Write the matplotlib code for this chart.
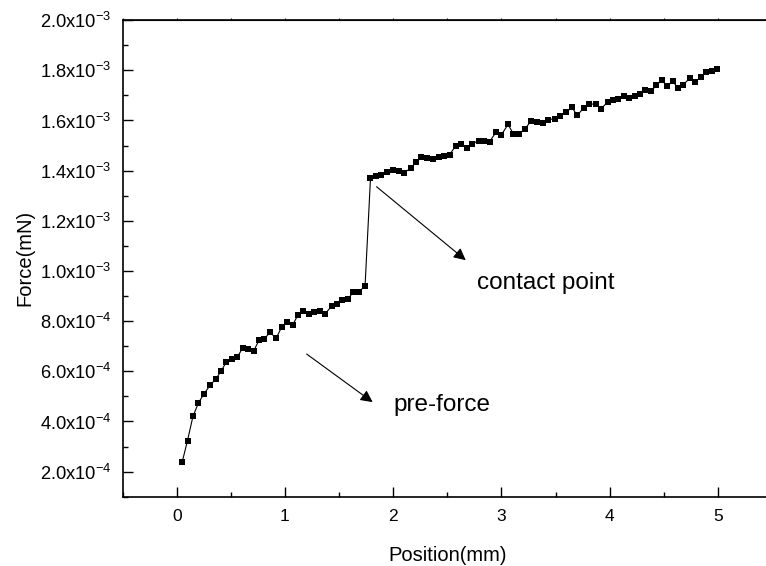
import matplotlib
matplotlib.use('Agg')
import matplotlib.pyplot as plt
from matplotlib.ticker import MultipleLocator, FixedLocator, FixedFormatter

plt.rcParams['font.family'] = ['Liberation Sans', 'DejaVu Sans']
plt.rcParams['mathtext.fontset'] = 'custom'
plt.rcParams['mathtext.rm'] = 'Liberation Sans'
plt.rcParams['mathtext.default'] = 'regular'

# position (mm) and force (mN)
position = [0.05, 0.10, 0.15, 0.20, 0.25, 0.31, 0.36, 0.41, 0.46, 0.51,
            0.56, 0.61, 0.66, 0.71, 0.76, 0.81, 0.86, 0.92, 0.97, 1.02,
            1.07, 1.12, 1.17, 1.22, 1.27, 1.32, 1.37, 1.43, 1.48, 1.53,
            1.58, 1.63, 1.68, 1.74,
            1.79, 1.84, 1.89, 1.94, 2.00, 2.05, 2.10, 2.16, 2.21, 2.26,
            2.31, 2.37, 2.42, 2.47, 2.52, 2.58, 2.63, 2.68, 2.73, 2.79, 2.84,
            2.89, 2.95, 3.00, 3.06, 3.11, 3.16, 3.22, 3.27, 3.33, 3.38,
            3.43, 3.49, 3.54, 3.60, 3.65, 3.70, 3.76, 3.81, 3.87, 3.92, 3.98,
            4.03, 4.08, 4.13, 4.18, 4.23, 4.28, 4.33, 4.38, 4.43, 4.48,
            4.53, 4.58, 4.63, 4.68, 4.74, 4.79, 4.84, 4.89, 4.94, 4.99]

force = [2.37e-4, 3.24e-4, 4.20e-4, 4.73e-4, 5.09e-4, 5.45e-4, 5.69e-4, 6.00e-4, 6.39e-4, 6.51e-4,
         6.57e-4, 6.93e-4, 6.88e-4, 6.81e-4, 7.23e-4, 7.29e-4, 7.55e-4, 7.33e-4, 7.77e-4, 7.96e-4,
         7.83e-4, 8.25e-4, 8.40e-4, 8.27e-4, 8.36e-4, 8.40e-4, 8.29e-4, 8.59e-4, 8.67e-4, 8.84e-4,
         8.87e-4, 9.15e-4, 9.15e-4, 9.41e-4,
         1.369e-3, 1.380e-3, 1.384e-3, 1.393e-3, 1.403e-3, 1.397e-3, 1.392e-3, 1.409e-3, 1.433e-3, 1.453e-3,
         1.451e-3, 1.445e-3, 1.453e-3, 1.457e-3, 1.464e-3, 1.500e-3, 1.507e-3, 1.491e-3, 1.507e-3, 1.520e-3, 1.520e-3,
         1.516e-3, 1.553e-3, 1.543e-3, 1.584e-3, 1.547e-3, 1.547e-3, 1.567e-3, 1.597e-3, 1.593e-3, 1.589e-3,
         1.603e-3, 1.607e-3, 1.617e-3, 1.633e-3, 1.653e-3, 1.620e-3, 1.651e-3, 1.667e-3, 1.664e-3, 1.647e-3, 1.673e-3,
         1.683e-3, 1.687e-3, 1.697e-3, 1.689e-3, 1.697e-3, 1.707e-3, 1.723e-3, 1.716e-3, 1.740e-3, 1.760e-3,
         1.737e-3, 1.756e-3, 1.731e-3, 1.743e-3, 1.769e-3, 1.753e-3, 1.773e-3, 1.793e-3, 1.796e-3, 1.807e-3]

x_ticks = [0, 1, 2, 3, 4, 5]
y_ticks = [2e-4, 4e-4, 6e-4, 8e-4, 1.0e-3, 1.2e-3, 1.4e-3, 1.6e-3, 1.8e-3, 2.0e-3]
y_labels = ['2.0x10$^{-4}$', '4.0x10$^{-4}$', '6.0x10$^{-4}$', '8.0x10$^{-4}$',
            '1.0x10$^{-3}$', '1.2x10$^{-3}$', '1.4x10$^{-3}$', '1.6x10$^{-3}$',
            '1.8x10$^{-3}$', '2.0x10$^{-3}$']

fig = plt.figure(figsize=(7.66, 5.66), dpi=100)
# right edge of the frame is cut off in the original
ax = fig.add_axes([0.160, 0.1224, 0.848, 0.842])

ax.plot(position, force, color='black', lw=0.8, marker='s', ms=4.3,
        markeredgewidth=0, clip_on=False)

ax.set_xlim(-0.5, 5.5)
ax.set_ylim(1e-4, 2e-3)

ax.xaxis.set_major_locator(FixedLocator(x_ticks))
ax.xaxis.set_minor_locator(MultipleLocator(0.5))
ax.yaxis.set_major_locator(FixedLocator(y_ticks))
ax.yaxis.set_major_formatter(FixedFormatter(y_labels))
ax.yaxis.set_minor_locator(MultipleLocator(1e-4))

ax.tick_params(which='both', direction='in', width=1.0)
ax.tick_params(which='major', length=7)
ax.tick_params(which='minor', length=3.5)
ax.tick_params(axis='x', pad=9, labelsize=12.5)
ax.tick_params(axis='y', pad=8, labelsize=13.2)

for s in ax.spines.values():
    s.set_linewidth(1.2)

# small ticks on the top frame
top = ax.secondary_xaxis('top')
top.xaxis.set_major_locator(MultipleLocator(0.5))
top.tick_params(direction='out', length=1.5, width=0.8, labeltop=False)

ax.set_xlabel('Position(mm)', fontsize=14.5, labelpad=16)
ax.set_ylabel('Force(mN)', fontsize=14.5, labelpad=4)

ax.annotate('', xy=(2.67, 1.043e-3), xytext=(1.846, 1.336e-3),
            arrowprops=dict(arrowstyle='-|>', color='black', lw=0.8,
                            mutation_scale=18, shrinkA=0, shrinkB=0))
ax.text(2.77, 9.52e-4, 'contact point', fontsize=17.5, va='center', ha='left')

ax.annotate('', xy=(1.81, 4.77e-4), xytext=(1.20, 6.69e-4),
            arrowprops=dict(arrowstyle='-|>', color='black', lw=0.8,
                            mutation_scale=18, shrinkA=0, shrinkB=0))
ax.text(2.0, 4.64e-4, 'pre-force', fontsize=17.5, va='center', ha='left')

plt.savefig('out.png', dpi=100)
plt.close()
